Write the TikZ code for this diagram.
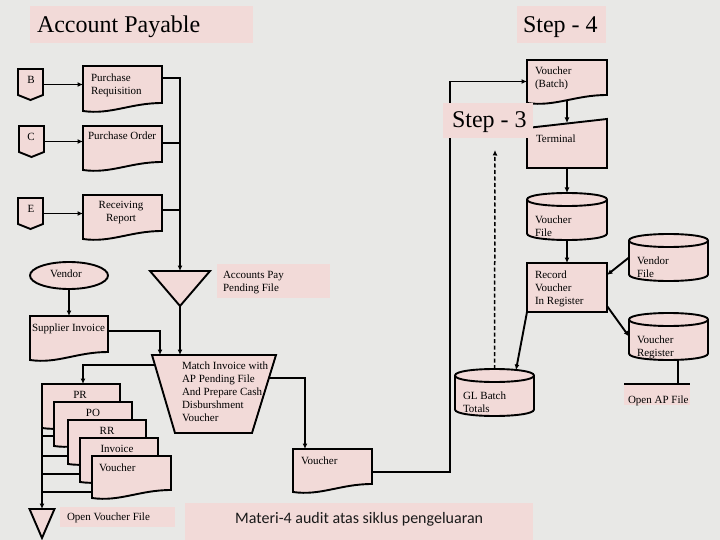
\documentclass[tikz,border=0pt]{standalone}
\usepackage{fontspec}
\setmainfont{Liberation Serif}
\newfontfamily\carl{Carlito}
\newfontfamily\tnr{Liberation Serif}
\usetikzlibrary{calc,arrows.meta,shapes.geometric}
\definecolor{bgc}{HTML}{E8E8E6}
\definecolor{pinkf}{HTML}{F2DAD8}
\tikzset{
 box/.style={draw=none,inner sep=0pt,outer sep=0pt,anchor=north west},
 shp/.style={draw=black,fill=pinkf,line width=1.9pt},
 conn/.style={draw=black,line width=1.9pt},
 arr/.style={conn,-{Latex[length=5.5pt,width=5pt]}},
 dsh/.style={draw=black,line width=1.5pt,dash pattern=on 4pt off 2.5pt,-{Latex[length=5.5pt,width=5pt]}},
 txt/.style={inner sep=0pt,outer sep=0pt,font=\tnr\fontsize{11}{13}\selectfont,align=left},
 big/.style={inner sep=0pt,outer sep=0pt,font=\tnr\fontsize{24}{28}\selectfont},
 panel/.style={fill=pinkf,draw=none},
}
\newcommand\docpath[1]{\path[shp] let \p1=(#1.north west),\p2=(#1.south east) in (\x1,\y1) -- (\x2,\y1) -- (\x2,\y2+8pt) .. controls ({0.4*\x1+0.6*\x2},\y2+8pt) and ({0.65*\x1+0.35*\x2},\y2-4pt) .. (\x1,\y2) -- cycle;}
\newcommand\cylpath[1]{\path[shp] let \p1=(#1.north west),\p2=(#1.south east) in (\x1,\y1-6.5pt) -- (\x1,\y2+6.5pt) .. controls (\x1,\y2-2.17pt) and (\x2,\y2-2.17pt) .. (\x2,\y2+6.5pt) -- (\x2,\y1-6.5pt) .. controls (\x2,\y1+2.17pt) and (\x1,\y1+2.17pt) .. cycle (\x1,\y1-6.5pt) .. controls (\x1,\y1-15.17pt) and (\x2,\y1-15.17pt) .. (\x2,\y1-6.5pt);}
\newcommand\offpath[1]{\path[shp] let \p1=(#1.north west),\p2=(#1.south east) in (\x1,\y1) -- (\x2,\y1) -- (\x2,\y2+5pt) -- ({(\x1+\x2)/2},\y2) -- (\x1,\y2+5pt) -- cycle;}
\newcommand\termpath[1]{\path[shp] let \p1=(#1.north west),\p2=(#1.south east) in (\x1,\y2) -- (\x1,\y1-9pt) -- (\x2,\y1) -- (\x2,\y2) -- cycle;}
\newcommand\trappath[1]{\path[shp] let \p1=(#1.north west),\p2=(#1.south east) in (\x1,\y1) -- (\x2,\y1) -- (\x2-24pt,\y2) -- (\x1+23pt,\y2) -- cycle;}
\newcommand\tripath[1]{\path[shp] let \p1=(#1.north west),\p2=(#1.south east) in (\x1,\y1) -- (\x2,\y1) -- ({(\x1+\x2)/2},\y2) -- cycle;}
\begin{document}
\begin{tikzpicture}[x=1pt,y=-1pt]
\useasboundingbox (0,0) rectangle (720,540);
\fill[bgc] (0,0) rectangle (720,540);

% panels
\node[box,panel,minimum width=223pt,minimum height=37pt] (tbox) at (30,6) {};
\node[box,panel,minimum width=89pt,minimum height=37pt] (s4box) at (517,6) {};
\node[box,panel,minimum width=348pt,minimum height=37pt] (mbox) at (185,503) {};
\node[box,panel,minimum width=113pt,minimum height=34pt] (apbox) at (217,264) {};
\node[box,panel,minimum width=115pt,minimum height=20pt] (ovt) at (60,507) {};
\node[box,panel,minimum width=66pt,minimum height=21pt] (oap) at (624,384) {};

% shape placeholders
\node[box,minimum width=25pt,minimum height=31pt] (offb) at (18,69) {};
\node[box,minimum width=25pt,minimum height=31pt] (offc) at (19,126) {};
\node[box,minimum width=25pt,minimum height=31pt] (offe) at (18,198) {};
\node[box,minimum width=79pt,minimum height=45pt] (pr) at (83,66) {};
\node[box,minimum width=79pt,minimum height=44pt] (po) at (83,126) {};
\node[box,minimum width=79pt,minimum height=44pt] (rr) at (83,195) {};
\node[box,minimum width=60pt,minimum height=35pt] (apf) at (150,271) {};
\node[box,minimum width=78pt,minimum height=44pt] (si) at (30,316) {};
\node[box,minimum width=124pt,minimum height=78pt] (mo) at (152,355) {};
\node[box,minimum width=79pt,minimum height=43pt] (vm) at (293,449) {};
\node[box,minimum width=79pt,minimum height=47pt] (gl) at (455,369) {};
\node[box,minimum width=80pt,minimum height=43pt] (vb) at (527,60) {};
\node[box,minimum width=80pt,minimum height=49pt] (term) at (527,119) {};
\node[box,minimum width=80pt,minimum height=47pt] (vf) at (527,193) {};
\node[box,minimum width=79pt,minimum height=47pt] (vfile) at (629,234) {};
\node[box,minimum width=79pt,minimum height=47pt] (vr) at (629,313) {};
\node[box,minimum width=78pt,minimum height=44pt] (s1) at (42,384) {};
\node[box,minimum width=78pt,minimum height=44pt] (s2) at (54,402) {};
\node[box,minimum width=78pt,minimum height=44pt] (s3) at (68,420) {};
\node[box,minimum width=78pt,minimum height=44pt] (s4) at (80,438) {};
\node[box,minimum width=79pt,minimum height=42pt] (s5) at (92,456) {};
\node[box,minimum width=25pt,minimum height=29pt] (ovf) at (29.5,509) {};

% connector coordinates
\coordinate (prj) at ($(pr.north east)+(0,12)$);
\coordinate (poj) at ($(po.north east)+(0,17)$);
\coordinate (rrj) at ($(rr.north east)+(0,15)$);
\coordinate (sij) at ($(si.north east)+(0,15)$);
\coordinate (moin) at ($(mo.north west)+(8,0)$);
\coordinate (mol) at (155,365);
\coordinate (mor) at (269,378);
\coordinate (vbus) at (450,81.5);
\coordinate (glt) at (516,370);
\coordinate (dtop) at (495,150);
\coordinate (vrb) at ($(vr.south)+(9.5,0)$);

% connectors
\draw[arr] (offb.east) -- (offb.east -| pr.west);
\draw[arr] (offc.east) -- (offc.east -| po.west);
\draw[arr] (offe.east) -- (offe.east -| rr.west);
\draw[arr] (prj) -| (apf.north);
\draw[conn] (poj) -- (poj -| apf.north);
\draw[conn] (rrj) -- (rrj -| apf.north);
\draw[arr] (apf.south) -- (apf.south |- mo.north);
\draw[arr] (sij) -| (moin);
\draw[arr] (mol) -| ($(s1.north west)+(41,0)$);
\draw[arr] (mor) -| ($(vm.north west)+(12,0)$);
\draw[arr] ($(vm.north east)+(0,23)$) -| (vbus) -- (vb.west);
\draw[arr] ($(vb.south)+(0,-3)$) -- ($(term.north)+(0,4)$);
\draw[arr] (term.south) -- (vf.north);
\draw[dsh] (gl.north) -- (dtop);
\draw[conn] (vrb) -- (vrb |- oap.north);
\draw[conn] (oap.north west) -- (oap.north east);
\draw[arr] (s1.north west) -- (ovf.north);
\draw[conn] ($(s1.north west)+(0,41)$) -- ($(s2.north west)+(0,23)$);
\draw[conn] ($(s1.north west)+(0,52)$) -- ($(s3.north west)+(0,16)$);
\draw[conn] ($(s1.north west)+(0,72)$) -- ($(s3.north west)+(0,36)$);
\draw[conn] ($(s1.north west)+(0,90)$) -- ($(s4.north west)+(0,36)$);
\draw[conn] ($(s1.north west)+(0,108)$) -- ($(s5.north west)+(0,36)$);

% shapes
\offpath{offb}\offpath{offc}\offpath{offe}
\docpath{pr}\docpath{po}\docpath{rr}
\tripath{apf}
\node[ellipse,shp,inner sep=0pt,minimum width=78pt,minimum height=27pt] (ven) at (69,275.5) {};
\draw[arr] (ven.south) -- (si.north);
\docpath{si}
\trappath{mo}
\docpath{vm}
\docpath{vb}
\termpath{term}
\cylpath{vf}
\node[box,shp,minimum width=80pt,minimum height=49pt] (rec) at (527,263) {};
\cylpath{vfile}
\cylpath{vr}
\cylpath{gl}
\draw[arr] (vf.south) -- (rec.north);
\draw[arr] (vfile.west) -- ($(rec.north east)+(0,12)$);
\draw[arr] ($(rec.south east)+(0,-6)$) -- (vr.west);
\draw[arr] (rec.south west) -- (glt);
\docpath{s1}\docpath{s2}\docpath{s3}\docpath{s4}\docpath{s5}
\tripath{ovf}
\node[box,panel,minimum width=90pt,minimum height=35pt] (s3box) at (443,103) {};

% texts
\node[big,anchor=base west] (ttitle) at (37,33) {Account Payable};
\node[big,anchor=base west] (tstep4) at (523,33) {Step - 4};
\node[big,anchor=base west] (tstep3) at (452,128) {Step - 3};
\node[inner sep=0pt,anchor=base west,font=\carl\fontsize{16}{19}\selectfont,text=black!90] (tmat) at (235,523) {Materi-4 audit atas siklus pengeluaran};
\node[txt,anchor=base] (tb) at (31,84) {B};
\node[txt,anchor=base] (tc) at (31,141) {C};
\node[txt,anchor=base] (te) at (31,213) {E};
\node[txt,anchor=north west] (tpr) at (91,73.5) {Purchase\\Requisition};
\node[txt,anchor=base west] (tpo) at (88,140) {Purchase Order};
\node[txt,anchor=north,align=center] (trr) at (121,201.5) {Receiving\\Report};
\node[txt,anchor=base] (tven) at (66,277) {Vendor};
\node[txt,anchor=north west] (tap) at (223,271.5) {Accounts Pay\\Pending File};
\node[txt,anchor=base west] (tsi) at (32,331) {Supplier Invoice};
\node[txt,anchor=north west] (tmo) at (182,361.5) {Match Invoice with\\AP Pending File\\And Prepare Cash\\Disburshment\\Voucher};
\node[txt,anchor=base] (ts1) at (80,398) {PR};
\node[txt,anchor=base] (ts2) at (93,416) {PO};
\node[txt,anchor=base] (ts3) at (107,434) {RR};
\node[txt,anchor=base] (ts4) at (117,452) {Invoice};
\node[txt,anchor=base west] (ts5) at (99,471) {Voucher};
\node[txt,anchor=base west] (tovt) at (67,520) {Open Voucher File};
\node[txt,anchor=base west] (tvm) at (301,464) {Voucher};
\node[txt,anchor=north west] (tgl) at (463,391.5) {GL Batch\\Totals};
\node[txt,anchor=base west] (toap) at (628,403) {Open AP File};
\node[txt,anchor=north west] (tvr) at (637,335.5) {Voucher\\Register};
\node[txt,anchor=north west] (trec) at (535,270.5) {Record\\Voucher\\In Register};
\node[txt,anchor=north west] (tvfile) at (637,256.5) {Vendor\\File};
\node[txt,anchor=north west] (tvf) at (535,215.5) {Voucher\\File};
\node[txt,anchor=base west] (tterm) at (536,143) {Terminal};
\node[txt,anchor=north west] (tvb) at (535,66.5) {Voucher\\(Batch)};
\end{tikzpicture}
\end{document}
